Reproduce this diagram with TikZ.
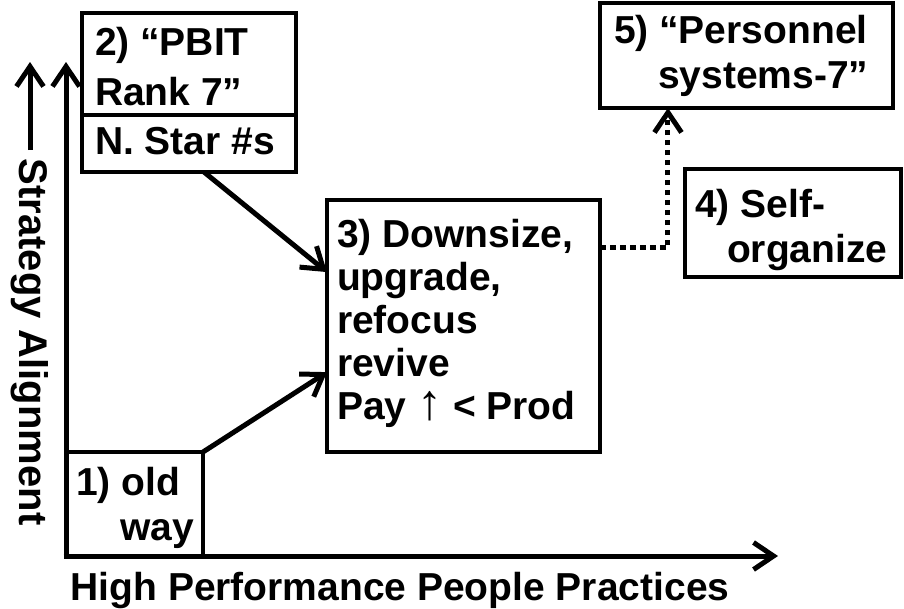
\documentclass[tikz,border=0pt]{standalone}
\usepackage{fontspec}
\setmainfont{Liberation Sans}
\usetikzlibrary{arrows.meta,calc}
\begin{document}
\begin{tikzpicture}[x=1pt,y=-1pt,
  box/.style={draw=black,line width=4.5pt,rectangle,inner sep=0pt,outer sep=0pt,anchor=north west},
  txt/.style={inner sep=0pt,outer sep=0pt,font=\fontsize{39}{47}\selectfont\bfseries,anchor=base west},
  axisline/.style={line width=5pt},
  barb/.style={-{Straight Barb[length=20pt,width=27pt,line width=5pt]}},
  dots/.style={line width=5pt,dash pattern=on 5.5pt off 4.5pt}
]
\useasboundingbox (0,0) rectangle (904,608);
% axes
\coordinate (O) at (66,556);
\coordinate (ytip) at (66,62);
\coordinate (xtip) at (778,556);
\draw[axisline,barb] ($(O)+(0,2.5)$) -- (ytip);
\draw[axisline,barb] ($(O)+(-2.5,0)$) -- (xtip);
% label arrow
\coordinate (la0) at (30,150);
\coordinate (la1) at (30,62);
\draw[axisline,barb] (la0) -- (la1);
\node[txt,anchor=base] (xl) at (400,600) {High Performance People Practices};
\node[txt,anchor=base,rotate=-90,font=\fontsize{40}{48}\selectfont\bfseries] (yl) at (19,342) {Strategy Alignment};
% boxes
\node[box,minimum width=137pt,minimum height=104pt] (b1) at (66,452) {};
\node[box,minimum width=214pt,minimum height=102pt] (b2a) at (82,13) {};
\node[box,minimum width=214pt,minimum height=57pt] (b2b) at (82,115) {};
\node[box,minimum width=273pt,minimum height=252pt] (b3) at (327,200) {};
\node[box,minimum width=216pt,minimum height=108pt] (b4) at (685,169) {};
\node[box,minimum width=293pt,minimum height=105pt] (b5) at (600,3) {};
% texts
\node[txt] (t1a) at (76,495) {1) old};
\node[txt] (t1b) at (120,540) {way};
\node[txt] (t2a) at (95,55) {2) “PBIT};
\node[txt] (t2b) at (95,105) {Rank 7”};
\node[txt] (t2c) at (95,154) {N. Star \#s};
\node[txt] (t3a) at (337,247) {3) Downsize,};
\node[txt] (t3b) at (337,290) {upgrade,};
\node[txt] (t3c) at (337,333) {refocus};
\node[txt] (t3d) at (337,376) {revive};
\node[txt] (t3e) at (337,419) {Pay {\fontsize{50}{50}\selectfont\mdseries ↑} < Prod};
\node[txt] (t4a) at (695,217) {4) Self-};
\node[txt] (t4b) at (727,262) {organize};
\node[txt] (t5a) at (614,43) {5) “Personnel};
\node[txt] (t5b) at (658,88) {systems-7”};
% connectors
\coordinate (s2) at ($(b2b.south west)!0.57!(b2b.south east)$);
\coordinate (e2) at ($(b3.north west)!0.286!(b3.south west)$);
\coordinate (e1) at ($(b3.north west)!0.683!(b3.south west)$);
\coordinate (s3) at ($(b3.north east)!0.187!(b3.south east)$);
\coordinate (e5) at ($(b5.south west)!0.232!(b5.south east)$);
\draw[axisline,barb] (s2) -- (e2);
\draw[axisline,barb] (b1.north east) -- (e1);
\draw[dots,barb] (s3) -| (e5);
\end{tikzpicture}
\end{document}
